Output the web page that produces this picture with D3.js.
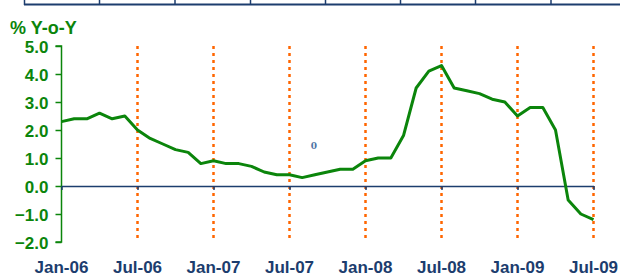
<!DOCTYPE html>
<html>
<head>
<meta charset="utf-8">
<script src="https://cdn.jsdelivr.net/npm/d3@7"></script>
<style>
  body { margin: 0; background: #fff; }
  svg { display: block; font-family: "Liberation Sans", Arial, sans-serif; }
</style>
</head>
<body>
<div id="chart"></div>
<script>
const months = [
    'Jan-06','Feb-06','Mar-06','Apr-06','May-06','Jun-06','Jul-06','Aug-06','Sep-06','Oct-06','Nov-06','Dec-06',
    'Jan-07','Feb-07','Mar-07','Apr-07','May-07','Jun-07','Jul-07','Aug-07','Sep-07','Oct-07','Nov-07','Dec-07',
    'Jan-08','Feb-08','Mar-08','Apr-08','May-08','Jun-08','Jul-08','Aug-08','Sep-08','Oct-08','Nov-08','Dec-08',
    'Jan-09','Feb-09','Mar-09','Apr-09','May-09','Jun-09','Jul-09'
];
const yoy = [
    2.3, 2.4, 2.4, 2.6, 2.4, 2.5, 2.0, 1.7, 1.5, 1.3, 1.2, 0.8,
    0.9, 0.8, 0.8, 0.7, 0.5, 0.4, 0.4, 0.3, 0.4, 0.5, 0.6, 0.6,
    0.9, 1.0, 1.0, 1.8, 3.5, 4.1, 4.3, 3.5, 3.4, 3.3, 3.1, 3.0,
    2.5, 2.8, 2.8, 2.0, -0.5, -1.0, -1.2
];
const xTicks = ['Jan-06','Jul-06','Jan-07','Jul-07','Jan-08','Jul-08','Jan-09','Jul-09'];
const yTicks = [5, 4, 3, 2, 1, 0, -1, -2];
const topCols = [24.5, 99.5, 175, 250.5, 325.5, 400.5, 475.5, 551];

const width = 620, height = 276;
const green = '#0b850b', navy = '#1c3d6e', orange = '#ff6600';

let svg = d3.select('#chart').append('svg')
    .attr('width', width)
    .attr('height', height);

// cut-off table border at the very top
svg.append('line')
    .attr('x1', 24).attr('x2', width)
    .attr('y1', 4.5).attr('y2', 4.5)
    .attr('stroke', navy).attr('stroke-width', 2);
svg.selectAll('.topcol')
    .data(topCols)
    .enter().append('line')
    .attr('class', 'topcol')
    .attr('x1', d => d).attr('x2', d => d)
    .attr('y1', 0).attr('y2', 5)
    .attr('stroke', navy).attr('stroke-width', 1.5);

let x = d3.scalePoint()
    .domain(months)
    .range([61.5, 593.5]);
let y = d3.scaleLinear()
    .domain([-2, 5])
    .range([242, 46]);

// orange dotted gridlines
svg.selectAll('.grid')
    .data(xTicks.slice(1))
    .enter().append('line')
    .attr('class', 'grid')
    .attr('x1', d => x(d)).attr('x2', d => x(d))
    .attr('y1', y(5)).attr('y2', y(-2))
    .attr('stroke', orange)
    .attr('stroke-width', 2.5)
    .attr('stroke-dasharray', '3,4');

// y axis
let yAxis = svg.append('g')
    .attr('transform', 'translate(61.5,0)')
    .call(d3.axisLeft(y).tickValues(yTicks).tickSize(6).tickPadding(7).tickFormat(d3.format('.1f')));
yAxis.select('.domain').attr('stroke', green).attr('stroke-width', 1.5)
    .attr('d', 'M-6,' + y(5) + 'H0V' + y(-2) + 'H-6');
yAxis.selectAll('.tick line').attr('stroke', green).attr('stroke-width', 1.5);
yAxis.selectAll('.tick text')
    .attr('fill', green)
    .attr('font-size', 17)
    .attr('font-weight', 'bold')
    .attr('font-family', '"Liberation Sans", Arial, sans-serif')
    .attr('dy', '0.36em');

// zero line with small ticks
let xAxis = svg.append('g')
    .attr('transform', 'translate(0,' + y(0) + ')')
    .call(d3.axisBottom(x).tickValues(xTicks).tickSize(4).tickSizeOuter(0).tickFormat(''));
xAxis.select('.domain').attr('stroke', navy).attr('stroke-width', 1.5);
xAxis.selectAll('.tick line').attr('stroke', navy).attr('stroke-width', 1.5);

// x labels at the bottom
svg.selectAll('.xlab')
    .data(xTicks)
    .enter().append('text')
    .attr('class', 'xlab')
    .attr('x', d => x(d))
    .attr('y', 273)
    .attr('text-anchor', 'middle')
    .attr('fill', navy)
    .attr('font-size', 17)
    .attr('font-weight', 'bold')
    .text(d => d);

// series
let line = d3.line()
    .x((d, i) => x(months[i]))
    .y(d => y(d));
svg.append('path')
    .datum(yoy)
    .attr('fill', 'none')
    .attr('stroke', green)
    .attr('stroke-width', 3)
    .attr('stroke-linejoin', 'round')
    .attr('d', line);

// title
svg.append('text')
    .attr('x', 10)
    .attr('y', 34)
    .attr('fill', green)
    .attr('font-size', 18)
    .attr('font-weight', 'bold')
    .text('% Y-o-Y');

// stray label
svg.append('text')
    .attr('x', 314)
    .attr('y', 149)
    .attr('text-anchor', 'middle')
    .attr('fill', '#4f74a6')
    .attr('font-size', 9)
    .attr('font-weight', 'bold')
    .attr('font-family', '"DejaVu Serif", serif')
    .text('0');
</script>
</body>
</html>
